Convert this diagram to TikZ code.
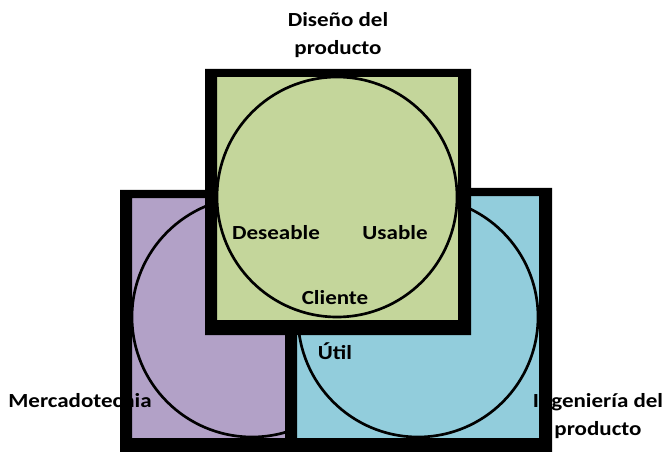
\documentclass[tikz,border=0pt]{standalone}
\usepackage{fontspec}
\setmainfont{Carlito}[FakeStretch=1.15]
\usepackage{xcolor}
\usepackage{tikz}

\definecolor{disenofill}{RGB}{196,214,155}
\definecolor{mercadofill}{RGB}{178,161,199}
\definecolor{ingefill}{RGB}{146,205,220}

\begin{document}
\begin{tikzpicture}[
  x=0.75pt, y=-0.75pt,
  blackframe/.style={fill=black, even odd rule},
  ring/.style={draw, line width=2pt},
  areatext/.style={font=\fontsize{15}{21}\selectfont\bfseries, align=center, inner sep=0pt}
]
\useasboundingbox (0,0) rectangle (666,452);

\fill[mercadofill] (132,198) rectangle (374,438);
\draw[ring] (252,317) circle[radius=120];
\node[areatext] (merc) at (80,401) {Mercadotecnia};
\fill[blackframe] (120,190) rectangle (386,452) (132,198) rectangle (374,438);

\fill[ingefill] (297,196) rectangle (539,438);
\draw[ring] (418,317) circle[radius=120];
\node[areatext] (inge) at (598,416) {Ingeniería del\\producto};
\node[areatext] (util) at (335,351) {Útil};
\fill[blackframe] (285,188) rectangle (552,452) (297,196) rectangle (539,438);

\fill[disenofill] (217,77) rectangle (458,320);
\draw[ring] (337,197) circle[radius=120];
\fill[blackframe] (205,69) rectangle (471,335) (217,77) rectangle (458,320);
\node[areatext] (dis) at (338,35) {Diseño del\\producto};
\node[areatext] (des) at (276,233) {Deseable};
\node[areatext] (usa) at (395,233) {Usable};
\node[areatext] (cli) at (335,298) {Cliente};
\end{tikzpicture}
\end{document}
